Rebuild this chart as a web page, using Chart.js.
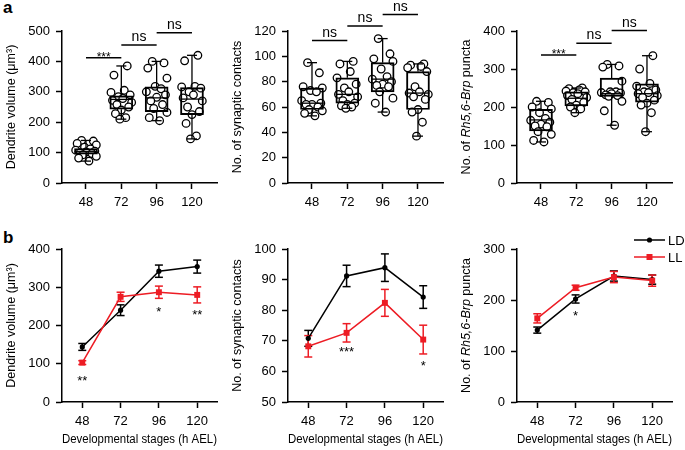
<!DOCTYPE html>
<html>
<head>
<meta charset="utf-8">
<script src="https://cdn.jsdelivr.net/npm/chart.js@4.4.1/dist/chart.umd.min.js"></script>
<style>
body { margin: 0; background: #fff; }
#fig { position: relative; width: 685px; height: 450px; font-family: 'Liberation Sans', Arial, sans-serif; overflow: hidden; }
.pane { position: absolute; width: 230px; }
.rowa { top: 0; height: 215px; }
.rowb { top: 210px; height: 240px; }
.tag { position: absolute; font-weight: bold; font-size: 17px; line-height: 1; }
</style>
</head>
<body>
<div id="fig">
	<div class="tag" style="left:3px;top:-1px">a</div>
	<div class="tag" style="left:3px;top:229px">b</div>
	<div class="pane rowa" style="left:0"><canvas id="a1"></canvas></div>
	<div class="pane rowa" style="left:226px"><canvas id="a2"></canvas></div>
	<div class="pane rowa" style="left:455px"><canvas id="a3"></canvas></div>
	<div class="pane rowb" style="left:0"><canvas id="b1"></canvas></div>
	<div class="pane rowb" style="left:226px"><canvas id="b2"></canvas></div>
	<div class="pane rowb" style="left:455px"><canvas id="b3"></canvas></div>
</div>
<script>
const FONT = "'Liberation Sans', Arial, sans-serif";
const RED = '#ed1c24';

const stages = [48, 72, 96, 120];
// hand-placed horizontal scatter of the dots (hours)
const jitterA = [-3, 5, -6, 7, -1, 3, -7, 6, 0, -4, 4, -2, 7, -5, 2];
const jitterB = [4, -5, 2, -7, 6, -2, 1, -6, 7, -3, 5, 0, -4, 3, -1];

// panel a: box = [min, q1, median, q3, max]
const volBox = [[72, 95, 103, 113, 140], [210, 243, 275, 287, 385], [205, 235, 280, 316, 400], [145, 225, 276, 314, 420]];
const volPts48 = [140, 138, 130, 125, 118, 112, 108, 105, 102, 100, 97, 93, 88, 82, 72];
const volPts72 = [385, 355, 305, 298, 290, 284, 278, 272, 265, 258, 250, 240, 228, 215, 210];
const volPts96 = [400, 395, 378, 345, 318, 310, 300, 290, 282, 270, 258, 245, 232, 215, 205];
const volPts120 = [420, 402, 318, 316, 312, 300, 290, 280, 270, 250, 235, 225, 196, 155, 145];
const volSig = [[48, 72, 412, '***'], [72, 96, 454, 'ns'], [96, 120, 494, 'ns']];

const synBox = [[53, 58, 63, 75, 95], [59, 63, 70, 83, 96], [56, 72, 82, 95, 114], [37, 58, 71, 88, 94]];
const synPts48 = [95, 87, 76, 75, 73, 72, 65, 63, 62, 62, 60, 58, 57, 55, 53];
const synPts72 = [96, 94, 88, 83, 78, 75, 72, 70, 68, 65, 63, 62, 61, 60, 59];
const synPts96 = [114, 102, 98, 96, 90, 84, 82, 80, 78, 77, 76, 72, 67, 63, 56];
const synPts120 = [94, 93, 92, 91, 88, 76, 72, 71, 70, 68, 66, 58, 56, 48, 37];
const synSig = [[48, 72, 112.5, 'ns'], [72, 96, 124, 'ns'], [96, 120, 133, 'ns']];

const rhBox = [[108, 137, 166, 194, 215], [185, 203, 223, 240, 250], [152, 228, 235, 276, 312], [135, 213, 235, 261, 335]];
const rhPts48 = [215, 212, 200, 195, 185, 170, 165, 160, 155, 150, 148, 135, 128, 112, 108];
const rhPts72 = [250, 248, 245, 242, 240, 238, 235, 230, 225, 220, 212, 205, 200, 195, 185];
const rhPts96 = [312, 308, 305, 268, 240, 240, 238, 237, 235, 232, 230, 228, 215, 190, 152];
const rhPts120 = [335, 300, 262, 255, 245, 240, 238, 235, 230, 225, 218, 210, 205, 185, 135];
const rhSig = [[48, 72, 337, '***'], [72, 96, 368, 'ns'], [96, 120, 401, 'ns']];

// panel b: means and error bars
const volLD = [144, 240, 342, 354];
const volLDerr = [9, 14, 16, 17];
const volLL = [103, 275, 287, 280];
const volLLerr = [5, 12, 16, 21];
const volStars = [[48, 63, '**'], [96, 243, '*'], [120, 236, '**']];

const synLD = [70.8, 91.2, 93.9, 84.3];
const synLDerr = [2.6, 3.5, 4.5, 3.7];
const synLL = [68.2, 72.6, 82.4, 70.4];
const synLLerr = [3.5, 3.0, 4.4, 4.7];
const synStars = [[72, 67.3, '***'], [120, 62.6, '*']];

const rhLD = [141, 202, 247, 240];
const rhLDerr = [6, 8, 10, 9];
const rhLL = [164, 224, 245, 238];
const rhLLerr = [9, 5, 11, 11];
const rhStars = [[72, 174, '*']];

const titleVol = [['Dendrite volume (μm³)', false]];
const titleSyn = [['No. of synaptic contacts', false]];
const titleRh = [['No. of ', false], ['Rh5,6-Brp', true], [' puncta', false]];

function seg(ctx, x1, y1, x2, y2) {
	ctx.beginPath();
	ctx.moveTo(x1, y1);
	ctx.lineTo(x2, y2);
	ctx.stroke();
}

const deco = {
	id: 'deco',
	beforeDatasetsDraw(chart, args, o) {
		const {ctx} = chart;
		const x = chart.scales.x, y = chart.scales.y;
		ctx.save();
		ctx.lineWidth = 1.5;
		(o.errors || []).forEach(e => {
			ctx.strokeStyle = e.color;
			e.vals.forEach((v, i) => {
				const cx = x.getPixelForValue(stages[i]);
				const lo = y.getPixelForValue(v - e.err[i]);
				const hi = y.getPixelForValue(v + e.err[i]);
				seg(ctx, cx, lo, cx, hi);
				seg(ctx, cx - 4, lo, cx + 4, lo);
				seg(ctx, cx - 4, hi, cx + 4, hi);
			});
		});
		ctx.restore();
	},
	afterDatasetsDraw(chart, args, o) {
		const {ctx} = chart;
		const x = chart.scales.x, y = chart.scales.y;
		ctx.save();
		ctx.lineWidth = 1.3;
		ctx.strokeStyle = '#000';
		(o.boxes || []).forEach((b, i) => {
			const cx = x.getPixelForValue(stages[i]);
			const p = b.map(v => y.getPixelForValue(v));
			seg(ctx, cx - 11.5, p[2], cx + 11.5, p[2]);
			seg(ctx, cx, p[3], cx, p[4]);
			seg(ctx, cx, p[1], cx, p[0]);
			seg(ctx, cx - 5, p[4], cx + 5, p[4]);
			seg(ctx, cx - 5, p[0], cx + 5, p[0]);
		});
		ctx.restore();
	},
	afterDraw(chart, args, o) {
		const {ctx, chartArea} = chart;
		const x = chart.scales.x, y = chart.scales.y;
		ctx.save();
		ctx.fillStyle = '#000';
		ctx.strokeStyle = '#000';
		ctx.lineWidth = 1.5;
		ctx.textAlign = 'center';
		(o.sig || []).forEach(s => {
			const x1 = x.getPixelForValue(s[0]), x2 = x.getPixelForValue(s[1]);
			const yy = y.getPixelForValue(s[2]);
			seg(ctx, x1, yy, x2, yy);
			ctx.textBaseline = 'alphabetic';
			if (s[3] === 'ns') {
				ctx.font = '14px ' + FONT;
				ctx.fillText(s[3], (x1 + x2) / 2, yy - 4);
			} else {
				ctx.font = '12px ' + FONT;
				ctx.fillText(s[3], (x1 + x2) / 2, yy + 3);
			}
		});
		(o.stars || []).forEach(s => {
			ctx.font = '13px ' + FONT;
			ctx.textBaseline = 'alphabetic';
			ctx.fillText(s[2], x.getPixelForValue(s[0]), y.getPixelForValue(s[1]) + 7);
		});
		// y title with mixed upright / italic parts
		if (o.title) {
			const fonts = o.title.map(t => (t[1] ? 'italic ' : '') + '12.5px ' + FONT);
			let total = 0;
			const widths = o.title.map((t, i) => { ctx.font = fonts[i]; const w = ctx.measureText(t[0]).width; total += w; return w; });
			ctx.save();
			ctx.translate(o.titleX, (chartArea.top + chartArea.bottom) / 2);
			ctx.rotate(-Math.PI / 2);
			ctx.textAlign = 'left';
			ctx.textBaseline = 'middle';
			let pos = -total / 2;
			o.title.forEach((t, i) => {
				ctx.font = fonts[i];
				ctx.fillText(t[0], pos, 0);
				pos += widths[i];
			});
			ctx.restore();
		}
		if (o.legend) {
			const rows = [['LD', '#000', 'circle', 30], ['LL', RED, 'rect', 47]];
			rows.forEach(r => {
				ctx.strokeStyle = r[1];
				ctx.fillStyle = r[1];
				ctx.lineWidth = 1.5;
				seg(ctx, 179, r[3], 210, r[3]);
				if (r[2] === 'circle') {
					ctx.beginPath(); ctx.arc(194.5, r[3], 2.6, 0, Math.PI * 2); ctx.fill();
				} else {
					ctx.fillRect(191.5, r[3] - 3, 6, 6);
				}
				ctx.fillStyle = '#000';
				ctx.font = '13px ' + FONT;
				ctx.textAlign = 'left';
				ctx.textBaseline = 'middle';
				ctx.fillText(r[0], 213, r[3] + 1);
			});
		}
		ctx.restore();
	}
};

function yAxis(min, max, step) {
	return {
		min: min, max: max,
		ticks: {stepSize: step, color: '#000', font: {family: FONT, size: 13}, padding: 6},
		grid: {drawOnChartArea: false, tickLength: 6, tickColor: '#000', tickWidth: 1.5},
		border: {color: '#000', width: 1.5},
		afterFit(s) { s.width = 62; }
	};
}

function xAxis(min, max, h, pad, withTitle) {
	return {
		type: 'linear', min: min, max: max, offset: false,
		afterBuildTicks(s) { s.ticks = stages.map(v => ({value: v})); },
		ticks: {color: '#000', font: {family: FONT, size: 13}, padding: pad, autoSkip: false, maxRotation: 0},
		grid: {offset: false, drawOnChartArea: false, tickLength: 6, tickColor: '#000', tickWidth: 1.5},
		border: {color: '#000', width: 1.5},
		title: {display: withTitle, text: 'Developmental stages (h AEL)', color: '#000', font: {family: FONT, size: 12.5}, padding: {top: 0, bottom: 2.5}},
		afterFit(s) { s.height = h; }
	};
}

function boxPanel(id, groups, box, sig, yMin, yMax, step, title) {
	const pts = [];
	groups.forEach((g, i) => {
		const jit = i % 2 ? jitterB : jitterA;
		g.forEach((v, j) => pts.push({x: stages[i] + jit[j], y: v}));
	});
	return new Chart(document.getElementById(id), {
		type: 'scatter',
		data: {
			datasets: [
				{type: 'scatter', data: pts, order: 1, pointRadius: 3.8, borderWidth: 1.3, borderColor: '#000', backgroundColor: '#fff'},
				{type: 'bar', data: box.map((b, i) => ({x: stages[i], y: [b[1], b[3]]})), order: 0,
					barThickness: 23, backgroundColor: 'rgba(0,0,0,0)', borderColor: '#000', borderWidth: 1.3, borderSkipped: false}
			]
		},
		options: {
			responsive: true, maintainAspectRatio: false, animation: false,
			layout: {padding: {top: 31, right: 13, bottom: 0, left: 0}},
			scales: {x: xAxis(31.7, 137, 32, 6, false), y: yAxis(yMin, yMax, step)},
			plugins: {legend: {display: false}, tooltip: {enabled: false},
				deco: {boxes: box, sig: sig, title: title, titleX: 12}}
		},
		plugins: [deco]
	});
}

function linePanel(id, ld, ldErr, ll, llErr, stars, yMin, yMax, step, title, legend) {
	const pts = vals => stages.map((s, i) => ({x: s, y: vals[i]}));
	return new Chart(document.getElementById(id), {
		type: 'scatter',
		data: {
			datasets: [
				{type: 'line', label: 'LL', data: pts(ll), order: 0, borderColor: RED, borderWidth: 1.5, pointStyle: 'rect', pointRadius: 4.2, pointBackgroundColor: RED, pointBorderWidth: 0},
				{type: 'line', label: 'LD', data: pts(ld), order: 1, borderColor: '#000', borderWidth: 1.5, pointStyle: 'circle', pointRadius: 2.6, pointBackgroundColor: '#000', pointBorderWidth: 0}
			]
		},
		options: {
			responsive: true, maintainAspectRatio: false, animation: false,
			layout: {padding: {top: 39, right: 13, bottom: 0, left: 0}},
			scales: {x: xAxis(35.3, 132.4, 48, 5.5, true), y: yAxis(yMin, yMax, step)},
			plugins: {legend: {display: false}, tooltip: {enabled: false},
				deco: {errors: [{vals: ld, err: ldErr, color: '#000'}, {vals: ll, err: llErr, color: RED}],
					stars: stars, title: title, titleX: 12, legend: legend}}
		},
		plugins: [deco]
	});
}

boxPanel('a1', [volPts48, volPts72, volPts96, volPts120], volBox, volSig, 0, 500, 100, titleVol);
boxPanel('a2', [synPts48, synPts72, synPts96, synPts120], synBox, synSig, 0, 120, 20, titleSyn);
boxPanel('a3', [rhPts48, rhPts72, rhPts96, rhPts120], rhBox, rhSig, 0, 400, 100, titleRh);
linePanel('b1', volLD, volLDerr, volLL, volLLerr, volStars, 0, 400, 100, titleVol, false);
linePanel('b2', synLD, synLDerr, synLL, synLLerr, synStars, 50, 100, 10, titleSyn, false);
linePanel('b3', rhLD, rhLDerr, rhLL, rhLLerr, rhStars, 0, 300, 100, titleRh, true);
</script>
</body>
</html>
